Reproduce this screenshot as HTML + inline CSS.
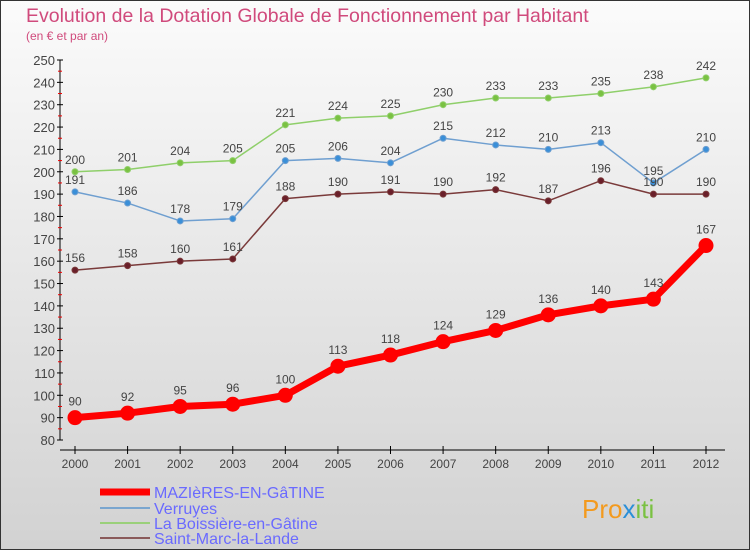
<!DOCTYPE html>
<html><head><meta charset="utf-8"><style>
body{margin:0;width:750px;height:550px;overflow:hidden;font-family:"Liberation Sans",sans-serif}
</style></head><body>
<svg id="c" width="750" height="550" xmlns="http://www.w3.org/2000/svg">
<defs><linearGradient id="bg" x1="0" y1="0" x2="0" y2="1"><stop offset="0" stop-color="#fbfbfb"/><stop offset="1" stop-color="#d2d2d2"/></linearGradient></defs>
<rect x="0.5" y="0.5" width="749" height="549" fill="url(#bg)" stroke="#333"/>
<text x="26" y="22" font-size="19.5" fill="#d04a7c">Evolution de la Dotation Globale de Fonctionnement par Habitant</text>
<text x="26" y="40" font-size="12" fill="#d04a7c">(en € et par an)</text>
<g id="plot"></g>
<g font-size="16" fill="#6a6aff">
<line x1="100" y1="492" x2="150" y2="492" stroke="#f00" stroke-width="7"/>
<text x="154" y="498">MAZIèRES-EN-GâTINE</text>
<line x1="100" y1="508" x2="150" y2="508" stroke="#7aa6cf" stroke-width="2"/>
<text x="154" y="514">Verruyes</text>
<line x1="100" y1="523" x2="150" y2="523" stroke="#9ad07a" stroke-width="2"/>
<text x="154" y="529">La Boissière-en-Gâtine</text>
<line x1="100" y1="538" x2="150" y2="538" stroke="#8a5a5a" stroke-width="2"/>
<text x="154" y="544">Saint-Marc-la-Lande</text>
</g>
<text x="582" y="518" font-size="26" fill="#f39a1e">Pro<tspan fill="#2a8fd8">x</tspan><tspan fill="#7ac142">iti</tspan></text>
</svg>
<script>
const years=[2000,2001,2002,2003,2004,2005,2006,2007,2008,2009,2010,2011,2012];
const mazieres=[90,92,95,96,100,113,118,124,129,136,140,143,167];
const verruyes=[191,186,178,179,205,206,204,215,212,210,213,195,210];
const boissiere=[200,201,204,205,221,224,225,230,233,233,235,238,242];
const saintMarc=[156,158,160,161,188,190,191,190,192,187,196,190,190];
const yTicks=[80,90,100,110,120,130,140,150,160,170,180,190,200,210,220,230,240,250];
const NS="http://www.w3.org/2000/svg";
const g=document.getElementById('plot');
const X=i=>75+i*(706-75)/(years.length-1);
const Y=v=>440-(v-80)*(380/170);
function mk(t,a,p){const e=document.createElementNS(NS,t);for(const k in a)e.setAttribute(k,a[k]);(p||g).appendChild(e);return e;}
let ax=mk('line',{x1:60,y1:60,x2:60,y2:440,stroke:'#000'});


ax=mk('line',{x1:60,y1:450,x2:725,y2:450,stroke:'#000'});


yTicks.forEach(v=>{
 mk('line',{x1:57,y1:Y(v),x2:63,y2:Y(v),stroke:'#000'});
 if(v<250)mk('line',{x1:58,y1:Y(v+5),x2:62,y2:Y(v+5),stroke:'#e00'});
 const t=mk('text',{x:55,y:Y(v)+5,'text-anchor':'end','font-size':13,fill:'#444'});t.textContent=v;
 
 
});
years.forEach((y,i)=>{
 mk('line',{x1:X(i),y1:446,x2:X(i),y2:454,stroke:'#000'});
 const t=mk('text',{x:X(i),y:468,'text-anchor':'middle','font-size':12,fill:'#444'});t.textContent=y;
 
 
});
function series(d,col,w,r,name,dot){
 const s=mk('g',{});
 
 
 const l=mk('polyline',{points:d.map((v,i)=>X(i)+','+Y(v)).join(' '),fill:'none',stroke:col,'stroke-width':w,'stroke-linejoin':'round'},s);
 
 
 d.forEach((v,i)=>{
  const c=mk('circle',{cx:X(i),cy:Y(v),r:r,fill:dot,stroke:col,'stroke-width':1},s);
  
  
  const t=mk('text',{x:X(i),y:Y(v)-(r+5),'text-anchor':'middle','font-size':12,fill:'#444'},s);t.textContent=v;
  
  
 });
}
series(boissiere,'#8fcf6a',1.5,3,'boissiere','#7ac142');
series(verruyes,'#6f9fd0',1.5,3,'verruyes','#3a8fd8');
series(saintMarc,'#7a3a3a',1.5,3,'saint-marc','#6a1f2a');
series(mazieres,'#f00',7,7,'mazieres','#f00');
</script>
</body></html>
